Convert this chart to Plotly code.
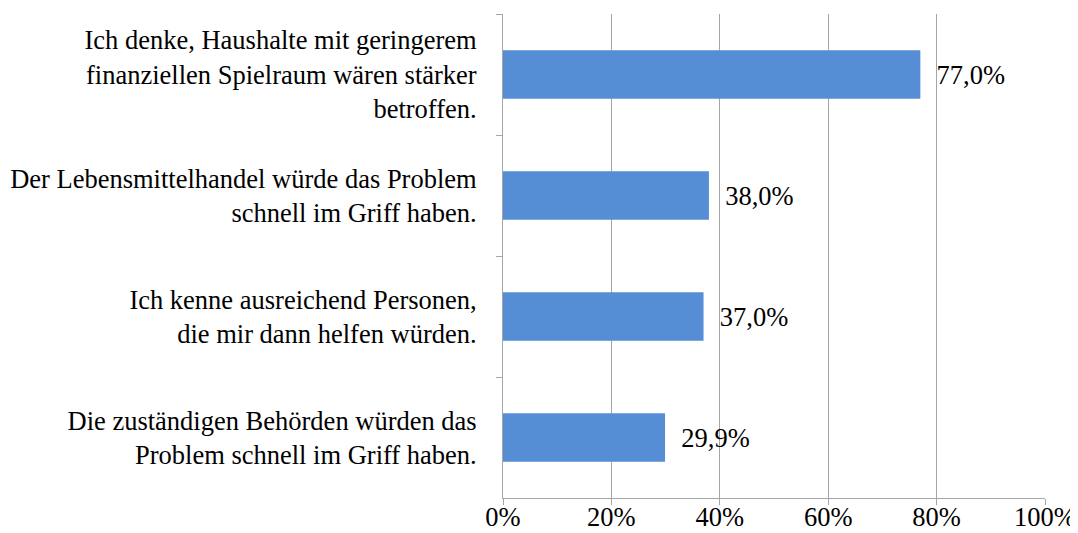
import plotly.graph_objects as go

categories = [
    "Ich denke, Haushalte mit geringerem<br>finanziellen Spielraum wären stärker<br>betroffen.",
    "Der Lebensmittelhandel würde das Problem<br>schnell im Griff haben.",
    "Ich kenne ausreichend Personen,<br>die mir dann helfen würden.",
    "Die zuständigen Behörden würden das<br>Problem schnell im Griff haben.",
]
values = [77.0, 38.0, 37.0, 29.9]
x_ticks = [0, 20, 40, 60, 80, 100]
x_tick_labels = ["0%", "20%", "40%", "60%", "80%", "100%"]

font_family = "Liberation Serif"
font_size = 26.5

fig = go.Figure(
    go.Bar(
        x=values,
        y=categories,
        orientation="h",
        width=0.4,
        marker=dict(color="#558ED5", line=dict(width=0)),
        texttemplate="  %{x:.1f}%",
        textposition="outside",
        textfont=dict(family=font_family, size=font_size, color="#000000"),
        cliponaxis=False,
    )
)

# page body has an 8px margin; compensate so the plot area lands where the reference has it
fig.update_layout(
    width=1070,
    height=525,
    margin=dict(l=495, r=33, t=6, b=35),
    paper_bgcolor="white",
    plot_bgcolor="white",
    separators=",.",
    showlegend=False,
    font=dict(family=font_family, size=font_size, color="#000000"),
    xaxis=dict(
        range=[0, 100],
        tickmode="array",
        tickvals=x_ticks,
        ticktext=x_tick_labels,
        showgrid=True,
        gridcolor="#A6A6A6",
        gridwidth=1,
        zeroline=False,
        showline=True,
        linecolor="#A6A6A6",
        linewidth=1,
        ticks="outside",
        ticklen=6,
        tickcolor="#A6A6A6",
        tickfont=dict(family=font_family, size=font_size, color="#000000"),
        ticklabelstandoff=-11,
        automargin=False,
    ),
    yaxis=dict(
        autorange="reversed",
        showgrid=False,
        showline=True,
        linecolor="#A6A6A6",
        linewidth=1,
        ticks="outside",
        ticklen=6,
        tickcolor="#A6A6A6",
        tickson="boundaries",
        tickfont=dict(family=font_family, size=font_size, color="#000000"),
        ticklabelstandoff=20,
        automargin=False,
    ),
)

fig.write_html("out.html")
